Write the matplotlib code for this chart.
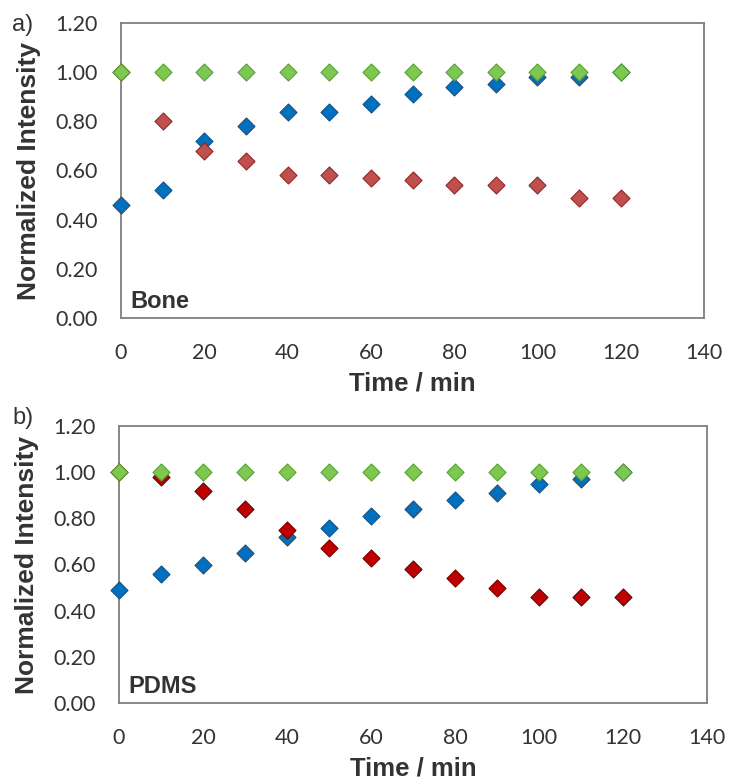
import numpy as np
import matplotlib.pyplot as plt

time_min = [0, 10, 20, 30, 40, 50, 60, 70, 80, 90, 100, 110, 120]

bone_blue = [0.46, 0.52, 0.72, 0.78, 0.84, 0.84, 0.87, 0.91, 0.94, 0.95, 0.98, 0.98, 1.00]
bone_red = [1.00, 0.80, 0.68, 0.64, 0.58, 0.58, 0.57, 0.56, 0.54, 0.54, 0.54, 0.49, 0.49]
bone_green = [1.00] * 13

pdms_blue = [0.49, 0.56, 0.60, 0.65, 0.72, 0.76, 0.81, 0.84, 0.88, 0.91, 0.95, 0.97, 1.00]
pdms_red = [1.00, 0.98, 0.92, 0.84, 0.75, 0.67, 0.63, 0.58, 0.54, 0.50, 0.46, 0.46, 0.46]
pdms_green = [1.00] * 13

y_ticks = [0.0, 0.2, 0.4, 0.6, 0.8, 1.0, 1.2]
x_ticks = [0, 20, 40, 60, 80, 100, 120, 140]

W, H = 729, 779
fig = plt.figure(figsize=(W / 100, H / 100), dpi=100)
# boxes in pixels: left, top, right, bottom
ax_a = fig.add_axes([121 / W, 1 - 318 / H, (704 - 121) / W, (318 - 23) / H])
ax_b = fig.add_axes([119 / W, 1 - 703 / H, (707 - 119) / W, (703 - 426) / H])

panels = [
    (ax_a, bone_blue, bone_red, bone_green, '#c0504d', '#8b2a28', 'Bone', 'a)', 25),
    (ax_b, pdms_blue, pdms_red, pdms_green, '#c00000', '#6e0000', 'PDMS', 'b)', 418),
]

txt = '#333333'
for ax, blue, red, green, rc, rec, name, tag, tag_y in panels:
    ax.scatter(time_min, blue, marker='D', s=75, color='#0070c0', edgecolors='#1f4e79', linewidths=0.8, zorder=3, clip_on=False)
    ax.scatter(time_min, red, marker='D', s=75, color=rc, edgecolors=rec, linewidths=0.8, zorder=4, clip_on=False)
    ax.scatter(time_min, green, marker='D', s=75, color='#7cc850', edgecolors='#5a9e3a', linewidths=0.8, zorder=5, clip_on=False)
    ax.set_xlim(0, 140)
    ax.set_ylim(0, 1.2)
    ax.set_xticks(x_ticks)
    ax.set_yticks(y_ticks)
    ax.set_yticklabels([f'{v:.2f}' for v in y_ticks])
    ax.tick_params(length=0, labelsize=15.5, labelcolor=txt)
    ax.tick_params(axis='x', pad=18)
    ax.tick_params(axis='y', pad=17)
    for lbl in ax.get_xticklabels() + ax.get_yticklabels():
        lbl.set_fontfamily('Lato')
    for sp in ax.spines.values():
        sp.set_color('#7f7f7f')
        sp.set_linewidth(1.3)
    ax.set_xlabel('Time / min', fontsize=18.5, fontweight='bold', family='Liberation Sans', color=txt, labelpad=6)
    ax.set_ylabel('Normalized Intensity', fontsize=19, fontweight='bold', family='Liberation Sans', color=txt, labelpad=10)
    ax.text(0.016, 0.035, name, transform=ax.transAxes, fontsize=17, fontweight='bold', family='Liberation Sans', color=txt)
    fig.text(12 / W, 1 - tag_y / H, tag, fontsize=17, family='Liberation Sans', color=txt, va='center')

fig.savefig('out.png', dpi=100)
